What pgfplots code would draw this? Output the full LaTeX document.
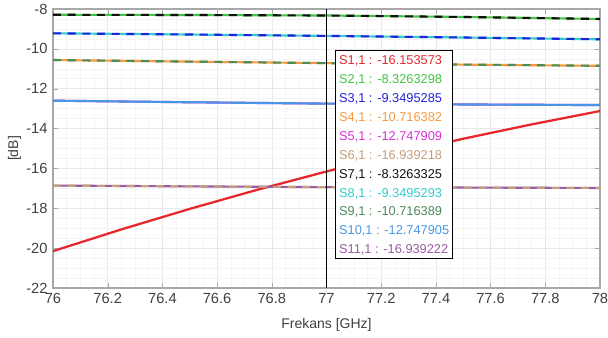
\documentclass[border=0pt]{standalone}
\usepackage{pgfplots}
\pgfplotsset{compat=1.18}
\usepackage{fontspec}
\setmainfont{Liberation Sans}
\definecolor{cS1}{HTML}{E8262C}
\definecolor{cS2}{HTML}{44C444}
\definecolor{cS3}{HTML}{2222DD}
\definecolor{cS4}{HTML}{F59A3C}
\definecolor{cS5}{HTML}{D633D6}
\definecolor{cS6}{HTML}{C4A07C}
\definecolor{cS7}{HTML}{111111}
\definecolor{cS8}{HTML}{33CCCC}
\definecolor{cS9}{HTML}{4E8A5A}
\definecolor{cS10}{HTML}{4896E6}
\definecolor{cS11}{HTML}{9A5AA6}
\definecolor{txt}{HTML}{404040}
\definecolor{axc}{HTML}{A8A8A8}
\begin{document}
\begin{tikzpicture}
\useasboundingbox (-39.75pt,-36.75pt) rectangle (416.25pt,216pt);
\begin{axis}[
  scale only axis,
  width=410.25pt, height=209.25pt,
  xmin=76, xmax=78, ymin=-22, ymax=-8,
  xtick={76,76.2,...,78.01},
  ytick={-22,-20,...,-8},
  xticklabel style={/pgf/number format/fixed},
  /pgf/number format/assume math mode=true,
  minor x tick num=3, minor y tick num=3,
  grid=both,
  major grid style={draw=gray!18},
  minor grid style={draw=gray!9},
  axis line style={draw=axc, line width=0.8pt},
  tick style={draw=axc},
  major tick length=4pt, minor tick length=0pt,
  tick align=inside,
  ticklabel style={text=txt, font=\fontsize{11}{13}\selectfont},
  xlabel={Frekans [GHz]},
  ylabel={[dB]},
  label style={text=txt, font=\fontsize{10.5}{12}\selectfont},
  xlabel style={at={(axis description cs:0.5,0)}, anchor=north, yshift=-19pt},
  ylabel style={at={(axis description cs:-0.0705,0.5)}, anchor=center},
  line width=1.6pt,
]
% S1 red
\addplot[cS1, line width=1.7pt] coordinates {(76,-20.15)(76.25,-19.06)(76.5,-18.03)(76.75,-17.06)(77,-16.153573)(77.25,-15.30)(77.5,-14.51)(77.75,-13.79)(78,-13.12)};
% S6/S11
\addplot[cS11] coordinates {(76,-16.86)(76.5,-16.90)(77,-16.939218)(77.5,-16.96)(78,-16.98)};
\addplot[cS6, dash pattern=on 6pt off 5pt] coordinates {(76,-16.86)(76.5,-16.90)(77,-16.939222)(77.5,-16.96)(78,-16.98)};
% S5/S10
\addplot[cS5] coordinates {(76,-12.60)(76.5,-12.68)(77,-12.747909)(77.5,-12.79)(78,-12.82)};
\addplot[cS10] coordinates {(76,-12.60)(76.5,-12.68)(77,-12.747905)(77.5,-12.79)(78,-12.82)};
% S4/S9
\addplot[cS4] coordinates {(76,-10.56)(76.5,-10.64)(77,-10.716382)(77.5,-10.79)(78,-10.85)};
\addplot[cS9, dash pattern=on 6pt off 5pt] coordinates {(76,-10.56)(76.5,-10.64)(77,-10.716389)(77.5,-10.79)(78,-10.85)};
% S3/S8
\addplot[cS8] coordinates {(76,-9.22)(76.5,-9.28)(77,-9.3495293)(77.5,-9.43)(78,-9.52)};
\addplot[cS3, dash pattern=on 6pt off 5pt] coordinates {(76,-9.22)(76.5,-9.28)(77,-9.3495285)(77.5,-9.43)(78,-9.52)};
% S2/S7
\addplot[cS2] coordinates {(76,-8.29)(76.5,-8.30)(77,-8.3263298)(77.5,-8.40)(78,-8.50)};
\addplot[cS7, dash pattern=on 6pt off 5pt] coordinates {(76,-8.29)(76.5,-8.30)(77,-8.3263325)(77.5,-8.40)(78,-8.50)};
% cursor line
\addplot[black, line width=0.9pt] coordinates {(77,-22)(77,-8)};
\node[draw=black, line width=1pt, fill=white, anchor=north west,
  minimum width=87.75pt, minimum height=156pt, inner sep=2pt,
  align=left, font=\fontsize{9.6}{14.2}\selectfont, text depth=0pt]
  at (axis cs:77.031,-10.06) {%
  \textcolor{cS1}{S1,1 : -16.153573}\\
  \textcolor{cS2}{S2,1 : -8.3263298}\\
  \textcolor{cS3}{S3,1 : -9.3495285}\\
  \textcolor{cS4}{S4,1 : -10.716382}\\
  \textcolor{cS5}{S5,1 : -12.747909}\\
  \textcolor{cS6}{S6,1 : -16.939218}\\
  \textcolor{cS7}{S7,1 : -8.3263325}\\
  \textcolor{cS8}{S8,1 : -9.3495293}\\
  \textcolor{cS9}{S9,1 : -10.716389}\\
  \textcolor{cS10}{S10,1 : -12.747905}\\
  \textcolor{cS11}{S11,1 : -16.939222}};
\end{axis}
\end{tikzpicture}
\end{document}
